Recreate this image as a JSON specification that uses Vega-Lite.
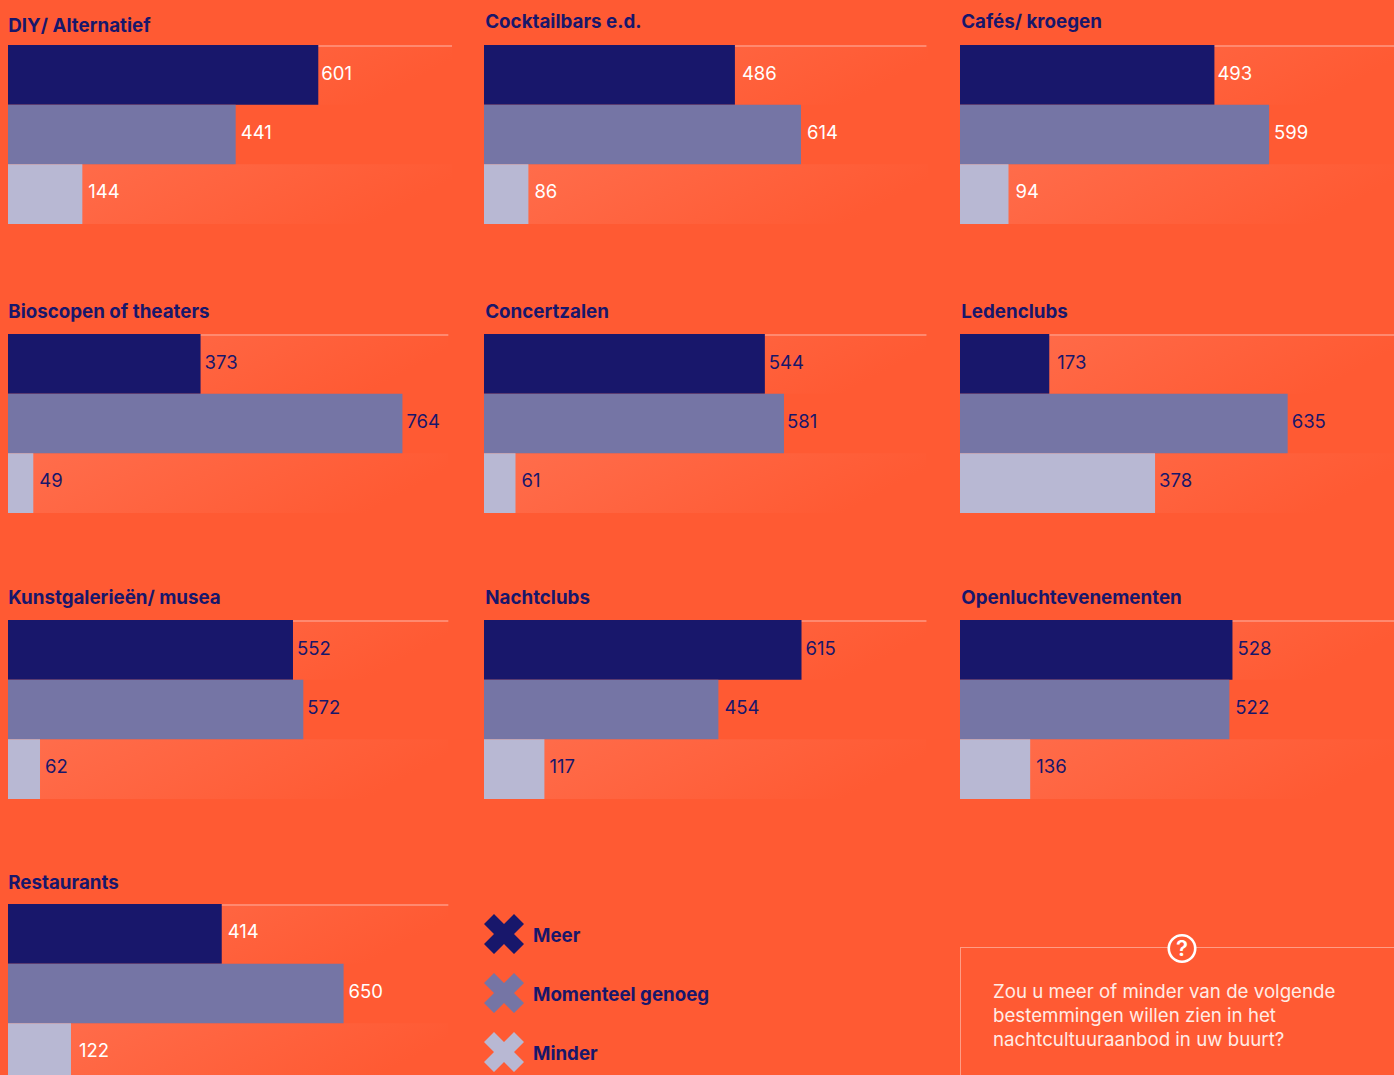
{"$schema":"https://vega.github.io/schema/vega-lite/v6.json","background":"#ff5a33","padding":{"left":7,"top":13,"right":0,"bottom":0},"bounds":"flush","align":"each","columns":3,"spacing":{"row":0,"column":32},
"datasets":{"rows":[
{"panel":"DIY/ Alternatief","category":"Meer","value":601},{"panel":"DIY/ Alternatief","category":"Momenteel genoeg","value":441},{"panel":"DIY/ Alternatief","category":"Minder","value":144},
{"panel":"Cocktailbars e.d.","category":"Meer","value":486},{"panel":"Cocktailbars e.d.","category":"Momenteel genoeg","value":614},{"panel":"Cocktailbars e.d.","category":"Minder","value":86},
{"panel":"Cafés/ kroegen","category":"Meer","value":493},{"panel":"Cafés/ kroegen","category":"Momenteel genoeg","value":599},{"panel":"Cafés/ kroegen","category":"Minder","value":94},
{"panel":"Bioscopen of theaters","category":"Meer","value":373},{"panel":"Bioscopen of theaters","category":"Momenteel genoeg","value":764},{"panel":"Bioscopen of theaters","category":"Minder","value":49},
{"panel":"Concertzalen","category":"Meer","value":544},{"panel":"Concertzalen","category":"Momenteel genoeg","value":581},{"panel":"Concertzalen","category":"Minder","value":61},
{"panel":"Ledenclubs","category":"Meer","value":173},{"panel":"Ledenclubs","category":"Momenteel genoeg","value":635},{"panel":"Ledenclubs","category":"Minder","value":378},
{"panel":"Kunstgalerieën/ musea","category":"Meer","value":552},{"panel":"Kunstgalerieën/ musea","category":"Momenteel genoeg","value":572},{"panel":"Kunstgalerieën/ musea","category":"Minder","value":62},
{"panel":"Nachtclubs","category":"Meer","value":615},{"panel":"Nachtclubs","category":"Momenteel genoeg","value":454},{"panel":"Nachtclubs","category":"Minder","value":117},
{"panel":"Openluchtevenementen","category":"Meer","value":528},{"panel":"Openluchtevenementen","category":"Momenteel genoeg","value":522},{"panel":"Openluchtevenementen","category":"Minder","value":136},
{"panel":"Restaurants","category":"Meer","value":414},{"panel":"Restaurants","category":"Momenteel genoeg","value":650},{"panel":"Restaurants","category":"Minder","value":122}
]},
"concat":[
{"width":444,"height":289,"title":{"text":"DIY/ Alternatief","offset":9,"dx":1},"data":{"name":"rows"},"transform":[{"filter":"datum.panel==='DIY/ Alternatief'"}],"encoding":{"y":{"field":"category","type":"nominal","axis":null,"scale":{"type":"band","domain":["Meer","Momenteel genoeg","Minder"],"range":[0,179],"padding":0}},"x":{"field":"value","type":"quantitative","axis":null,"stack":null,"scale":{"domain":[0,860],"nice":false}}},
"layer":[
{"transform":[{"filter":"datum.category!=='Momenteel genoeg'"}],"mark":{"type":"bar","color":{"gradient":"linear","x1":0,"y1":0,"x2":1,"y2":0.25,"stops":[{"offset":0,"color":"#ff6e4d"},{"offset":1,"color":"#ff5a33"}]}},"encoding":{"x":{"datum":860,"type":"quantitative"}}},
{"mark":{"type":"rule","color":"#ff8a70","strokeWidth":1.5,"yOffset":1},"encoding":{"x":{"datum":0,"type":"quantitative"},"x2":{"datum":860},"y":{"datum":"Meer","type":"nominal","bandPosition":0}}},
{"mark":"bar","encoding":{"color":{"field":"category","type":"nominal","title":null,"legend":{"encoding":{"labels":{"dy":{"value":2}}}},"scale":{"domain":["Meer","Momenteel genoeg","Minder"],"range":["#18176b","#7575a5","#b8b8d3"]}}}},
{"mark":{"type":"text","align":"left","baseline":"middle","fontSize":18.5,"color":"#ffffff","dy":{"expr":"datum.category==='Meer'?-1:-2"},"dx":{"expr":"datum.category==='Meer'?3:datum.category==='Minder'?6:5"}},"encoding":{"text":{"field":"value","type":"quantitative"}}}
]},
{"width":444,"height":289,"title":{"text":"Cocktailbars e.d.","offset":13,"dx":2},"data":{"name":"rows"},"transform":[{"filter":"datum.panel==='Cocktailbars e.d.'"}],"encoding":{"y":{"field":"category","type":"nominal","axis":null,"scale":{"type":"band","domain":["Meer","Momenteel genoeg","Minder"],"range":[0,179],"padding":0}},"x":{"field":"value","type":"quantitative","axis":null,"stack":null,"scale":{"domain":[0,860],"nice":false}}},
"layer":[
{"transform":[{"filter":"datum.category!=='Momenteel genoeg'"}],"mark":{"type":"bar","color":{"gradient":"linear","x1":0,"y1":0,"x2":1,"y2":0.25,"stops":[{"offset":0,"color":"#ff6e4d"},{"offset":1,"color":"#ff5a33"}]}},"encoding":{"x":{"datum":860,"type":"quantitative"}}},
{"mark":{"type":"rule","color":"#ff8a70","strokeWidth":1.5,"yOffset":1},"encoding":{"x":{"datum":0,"type":"quantitative"},"x2":{"datum":856.6},"y":{"datum":"Meer","type":"nominal","bandPosition":0}}},
{"mark":"bar","encoding":{"color":{"field":"category","type":"nominal","title":null,"scale":{"domain":["Meer","Momenteel genoeg","Minder"],"range":["#18176b","#7575a5","#b8b8d3"]}}}},
{"mark":{"type":"text","align":"left","baseline":"middle","fontSize":18.5,"color":"#ffffff","dy":{"expr":"datum.category==='Meer'?-1:-2"},"dx":{"expr":"datum.category==='Meer'?7:6"}},"encoding":{"text":{"field":"value","type":"quantitative"}}}
]},
{"width":435,"height":289,"title":{"text":"Cafés/ kroegen","offset":13,"dx":2},"data":{"name":"rows"},"transform":[{"filter":"datum.panel==='Cafés/ kroegen'"}],"encoding":{"y":{"field":"category","type":"nominal","axis":null,"scale":{"type":"band","domain":["Meer","Momenteel genoeg","Minder"],"range":[0,179],"padding":0}},"x":{"field":"value","type":"quantitative","axis":null,"stack":null,"scale":{"domain":[0,843],"nice":false}}},
"layer":[
{"transform":[{"filter":"datum.category!=='Momenteel genoeg'"}],"mark":{"type":"bar","color":{"gradient":"linear","x1":0,"y1":0,"x2":1,"y2":0.25,"stops":[{"offset":0,"color":"#ff6e4d"},{"offset":1,"color":"#ff5a33"}]}},"encoding":{"x":{"datum":843,"type":"quantitative"}}},
{"mark":{"type":"rule","color":"#ff8a70","strokeWidth":1.5,"yOffset":1},"encoding":{"x":{"datum":0,"type":"quantitative"},"x2":{"datum":843},"y":{"datum":"Meer","type":"nominal","bandPosition":0}}},
{"mark":"bar","encoding":{"color":{"field":"category","type":"nominal","title":null,"scale":{"domain":["Meer","Momenteel genoeg","Minder"],"range":["#18176b","#7575a5","#b8b8d3"]}}}},
{"mark":{"type":"text","align":"left","baseline":"middle","fontSize":18.5,"color":"#ffffff","dy":{"expr":"datum.category==='Meer'?-1:-2"},"dx":{"expr":"datum.category==='Meer'?3:datum.category==='Minder'?7:5"}},"encoding":{"text":{"field":"value","type":"quantitative"}}}
]},
{"width":444,"height":286,"title":{"text":"Bioscopen of theaters","offset":12,"dx":1},"data":{"name":"rows"},"transform":[{"filter":"datum.panel==='Bioscopen of theaters'"}],"encoding":{"y":{"field":"category","type":"nominal","axis":null,"scale":{"type":"band","domain":["Meer","Momenteel genoeg","Minder"],"range":[0,179],"padding":0}},"x":{"field":"value","type":"quantitative","axis":null,"stack":null,"scale":{"domain":[0,860],"nice":false}}},
"layer":[
{"transform":[{"filter":"datum.category!=='Momenteel genoeg'"}],"mark":{"type":"bar","color":{"gradient":"linear","x1":0,"y1":0,"x2":1,"y2":0.25,"stops":[{"offset":0,"color":"#ff6e4d"},{"offset":1,"color":"#ff5a33"}]}},"encoding":{"x":{"datum":852.6,"type":"quantitative"}}},
{"mark":{"type":"rule","color":"#ff8a70","strokeWidth":1.5,"yOffset":1},"encoding":{"x":{"datum":0,"type":"quantitative"},"x2":{"datum":852.6},"y":{"datum":"Meer","type":"nominal","bandPosition":0}}},
{"mark":"bar","encoding":{"color":{"field":"category","type":"nominal","title":null,"scale":{"domain":["Meer","Momenteel genoeg","Minder"],"range":["#18176b","#7575a5","#b8b8d3"]}}}},
{"mark":{"type":"text","align":"left","baseline":"middle","fontSize":18.5,"color":"#18176b","dy":{"expr":"datum.category==='Meer'?-1:-2"},"dx":{"expr":"datum.category==='Minder'?6:4"}},"encoding":{"text":{"field":"value","type":"quantitative"}}}
]},
{"width":444,"height":286,"title":{"text":"Concertzalen","offset":12,"dx":2},"data":{"name":"rows"},"transform":[{"filter":"datum.panel==='Concertzalen'"}],"encoding":{"y":{"field":"category","type":"nominal","axis":null,"scale":{"type":"band","domain":["Meer","Momenteel genoeg","Minder"],"range":[0,179],"padding":0}},"x":{"field":"value","type":"quantitative","axis":null,"stack":null,"scale":{"domain":[0,860],"nice":false}}},
"layer":[
{"transform":[{"filter":"datum.category!=='Momenteel genoeg'"}],"mark":{"type":"bar","color":{"gradient":"linear","x1":0,"y1":0,"x2":1,"y2":0.25,"stops":[{"offset":0,"color":"#ff6e4d"},{"offset":1,"color":"#ff5a33"}]}},"encoding":{"x":{"datum":856.6,"type":"quantitative"}}},
{"mark":{"type":"rule","color":"#ff8a70","strokeWidth":1.5,"yOffset":1},"encoding":{"x":{"datum":0,"type":"quantitative"},"x2":{"datum":856.6},"y":{"datum":"Meer","type":"nominal","bandPosition":0}}},
{"mark":"bar","encoding":{"color":{"field":"category","type":"nominal","title":null,"scale":{"domain":["Meer","Momenteel genoeg","Minder"],"range":["#18176b","#7575a5","#b8b8d3"]}}}},
{"mark":{"type":"text","align":"left","baseline":"middle","fontSize":18.5,"color":"#18176b","dy":{"expr":"datum.category==='Meer'?-1:-2"},"dx":{"expr":"datum.category==='Meer'?4:datum.category==='Minder'?6:3"}},"encoding":{"text":{"field":"value","type":"quantitative"}}}
]},
{"width":435,"height":286,"title":{"text":"Ledenclubs","offset":12,"dx":2},"data":{"name":"rows"},"transform":[{"filter":"datum.panel==='Ledenclubs'"}],"encoding":{"y":{"field":"category","type":"nominal","axis":null,"scale":{"type":"band","domain":["Meer","Momenteel genoeg","Minder"],"range":[0,179],"padding":0}},"x":{"field":"value","type":"quantitative","axis":null,"stack":null,"scale":{"domain":[0,843],"nice":false}}},
"layer":[
{"transform":[{"filter":"datum.category!=='Momenteel genoeg'"}],"mark":{"type":"bar","color":{"gradient":"linear","x1":0,"y1":0,"x2":1,"y2":0.25,"stops":[{"offset":0,"color":"#ff6e4d"},{"offset":1,"color":"#ff5a33"}]}},"encoding":{"x":{"datum":843,"type":"quantitative"}}},
{"mark":{"type":"rule","color":"#ff8a70","strokeWidth":1.5,"yOffset":1},"encoding":{"x":{"datum":0,"type":"quantitative"},"x2":{"datum":843},"y":{"datum":"Meer","type":"nominal","bandPosition":0}}},
{"mark":"bar","encoding":{"color":{"field":"category","type":"nominal","title":null,"scale":{"domain":["Meer","Momenteel genoeg","Minder"],"range":["#18176b","#7575a5","#b8b8d3"]}}}},
{"mark":{"type":"text","align":"left","baseline":"middle","fontSize":18.5,"color":"#18176b","dy":{"expr":"datum.category==='Meer'?-1:-2"},"dx":{"expr":"datum.category==='Meer'?8:4"}},"encoding":{"text":{"field":"value","type":"quantitative"}}}
]},
{"width":444,"height":284,"title":{"text":"Kunstgalerieën/ musea","offset":12,"dx":1},"data":{"name":"rows"},"transform":[{"filter":"datum.panel==='Kunstgalerieën/ musea'"}],"encoding":{"y":{"field":"category","type":"nominal","axis":null,"scale":{"type":"band","domain":["Meer","Momenteel genoeg","Minder"],"range":[0,179],"padding":0}},"x":{"field":"value","type":"quantitative","axis":null,"stack":null,"scale":{"domain":[0,860],"nice":false}}},
"layer":[
{"transform":[{"filter":"datum.category!=='Momenteel genoeg'"}],"mark":{"type":"bar","color":{"gradient":"linear","x1":0,"y1":0,"x2":1,"y2":0.25,"stops":[{"offset":0,"color":"#ff6e4d"},{"offset":1,"color":"#ff5a33"}]}},"encoding":{"x":{"datum":852.6,"type":"quantitative"}}},
{"mark":{"type":"rule","color":"#ff8a70","strokeWidth":1.5,"yOffset":1},"encoding":{"x":{"datum":0,"type":"quantitative"},"x2":{"datum":852.6},"y":{"datum":"Meer","type":"nominal","bandPosition":0}}},
{"mark":"bar","encoding":{"color":{"field":"category","type":"nominal","title":null,"scale":{"domain":["Meer","Momenteel genoeg","Minder"],"range":["#18176b","#7575a5","#b8b8d3"]}}}},
{"mark":{"type":"text","align":"left","baseline":"middle","fontSize":18.5,"color":"#18176b","dy":{"expr":"datum.category==='Meer'?-1:-2"},"dx":{"expr":"datum.category==='Minder'?5:4"}},"encoding":{"text":{"field":"value","type":"quantitative"}}}
]},
{"width":444,"height":284,"title":{"text":"Nachtclubs","offset":12,"dx":2},"data":{"name":"rows"},"transform":[{"filter":"datum.panel==='Nachtclubs'"}],"encoding":{"y":{"field":"category","type":"nominal","axis":null,"scale":{"type":"band","domain":["Meer","Momenteel genoeg","Minder"],"range":[0,179],"padding":0}},"x":{"field":"value","type":"quantitative","axis":null,"stack":null,"scale":{"domain":[0,860],"nice":false}}},
"layer":[
{"transform":[{"filter":"datum.category!=='Momenteel genoeg'"}],"mark":{"type":"bar","color":{"gradient":"linear","x1":0,"y1":0,"x2":1,"y2":0.25,"stops":[{"offset":0,"color":"#ff6e4d"},{"offset":1,"color":"#ff5a33"}]}},"encoding":{"x":{"datum":856.6,"type":"quantitative"}}},
{"mark":{"type":"rule","color":"#ff8a70","strokeWidth":1.5,"yOffset":1},"encoding":{"x":{"datum":0,"type":"quantitative"},"x2":{"datum":856.6},"y":{"datum":"Meer","type":"nominal","bandPosition":0}}},
{"mark":"bar","encoding":{"color":{"field":"category","type":"nominal","title":null,"scale":{"domain":["Meer","Momenteel genoeg","Minder"],"range":["#18176b","#7575a5","#b8b8d3"]}}}},
{"mark":{"type":"text","align":"left","baseline":"middle","fontSize":18.5,"color":"#18176b","dy":{"expr":"datum.category==='Meer'?-1:-2"},"dx":{"expr":"datum.category==='Meer'?4:datum.category==='Minder'?5:6"}},"encoding":{"text":{"field":"value","type":"quantitative"}}}
]},
{"width":435,"height":284,"title":{"text":"Openluchtevenementen","offset":12,"dx":2},"data":{"name":"rows"},"transform":[{"filter":"datum.panel==='Openluchtevenementen'"}],"encoding":{"y":{"field":"category","type":"nominal","axis":null,"scale":{"type":"band","domain":["Meer","Momenteel genoeg","Minder"],"range":[0,179],"padding":0}},"x":{"field":"value","type":"quantitative","axis":null,"stack":null,"scale":{"domain":[0,843],"nice":false}}},
"layer":[
{"transform":[{"filter":"datum.category!=='Momenteel genoeg'"}],"mark":{"type":"bar","color":{"gradient":"linear","x1":0,"y1":0,"x2":1,"y2":0.25,"stops":[{"offset":0,"color":"#ff6e4d"},{"offset":1,"color":"#ff5a33"}]}},"encoding":{"x":{"datum":843,"type":"quantitative"}}},
{"mark":{"type":"rule","color":"#ff8a70","strokeWidth":1.5,"yOffset":1},"encoding":{"x":{"datum":0,"type":"quantitative"},"x2":{"datum":843},"y":{"datum":"Meer","type":"nominal","bandPosition":0}}},
{"mark":"bar","encoding":{"color":{"field":"category","type":"nominal","title":null,"scale":{"domain":["Meer","Momenteel genoeg","Minder"],"range":["#18176b","#7575a5","#b8b8d3"]}}}},
{"mark":{"type":"text","align":"left","baseline":"middle","fontSize":18.5,"color":"#18176b","dy":{"expr":"datum.category==='Meer'?-1:-2"},"dx":{"expr":"datum.category==='Meer'?5:6"}},"encoding":{"text":{"field":"value","type":"quantitative"}}}
]},
{"width":444,"height":171,"title":{"text":"Restaurants","offset":11,"dx":1},"data":{"name":"rows"},"transform":[{"filter":"datum.panel==='Restaurants'"}],"encoding":{"y":{"field":"category","type":"nominal","axis":null,"scale":{"type":"band","domain":["Meer","Momenteel genoeg","Minder"],"range":[0,179],"padding":0}},"x":{"field":"value","type":"quantitative","axis":null,"stack":null,"scale":{"domain":[0,860],"nice":false}}},
"layer":[
{"transform":[{"filter":"datum.category!=='Momenteel genoeg'"}],"mark":{"type":"bar","clip":true,"color":{"gradient":"linear","x1":0,"y1":0,"x2":1,"y2":0.25,"stops":[{"offset":0,"color":"#ff6e4d"},{"offset":1,"color":"#ff5a33"}]}},"encoding":{"x":{"datum":852.6,"type":"quantitative"}}},
{"mark":{"type":"rule","color":"#ff8a70","strokeWidth":1.5,"yOffset":1},"encoding":{"x":{"datum":0,"type":"quantitative"},"x2":{"datum":852.6},"y":{"datum":"Meer","type":"nominal","bandPosition":0}}},
{"mark":{"type":"bar","clip":true},"encoding":{"color":{"field":"category","type":"nominal","title":null,"scale":{"domain":["Meer","Momenteel genoeg","Minder"],"range":["#18176b","#7575a5","#b8b8d3"]}}}},
{"mark":{"type":"text","align":"left","baseline":"middle","fontSize":18.5,"color":"#ffffff","dy":-2,"dx":{"expr":"datum.category==='Meer'?6:datum.category==='Minder'?8:5"}},"encoding":{"text":{"field":"value","type":"quantitative"}}}
]},
{"width":444,"height":171,"data":{"values":[]},"mark":"text"},
{"width":435,"height":171,"data":{"values":[{"note":"Zou u meer of minder van de volgende bestemmingen willen zien in het nachtcultuuraanbod in uw buurt?"}]},
"encoding":{"x":{"datum":0,"type":"quantitative","axis":null,"scale":{"domain":[0,435],"nice":false}},"y":{"datum":43.5,"type":"quantitative","axis":null,"scale":{"domain":[171,0],"nice":false}}},
"layer":[
{"mark":{"type":"rule","color":"#ff9c85","strokeWidth":1},"encoding":{"x2":{"datum":435}}},
{"mark":{"type":"rule","color":"#ff9c85","strokeWidth":1},"encoding":{"x":{"datum":0.5,"type":"quantitative"},"y2":{"datum":171}}},
{"mark":{"type":"point","filled":false,"shape":"circle","size":700,"stroke":"#ffffff","strokeWidth":2.6,"fill":"#ff5a33","fillOpacity":1,"opacity":1},"encoding":{"x":{"datum":222,"type":"quantitative"},"y":{"datum":44.5,"type":"quantitative"}}},
{"mark":{"type":"text","text":"?","fontSize":22,"fontWeight":600,"color":"#ffffff","align":"center","baseline":"middle"},"encoding":{"x":{"datum":222,"type":"quantitative"},"y":{"datum":44.5,"type":"quantitative"}}},
{"mark":{"type":"text","text":["Zou u meer of minder van de volgende","bestemmingen willen zien in het","nachtcultuuraanbod in uw buurt?"],"fontSize":18.7,"lineHeight":24.2,"color":"#ffece6","align":"left","baseline":"alphabetic"},"encoding":{"x":{"datum":33,"type":"quantitative"},"y":{"datum":94,"type":"quantitative"}}}
]}
],
"config":{"font":"Inter","view":{"stroke":null},"title":{"anchor":"start","font":"Inter","fontSize":18.75,"fontWeight":700,"color":"#18176b","baseline":"alphabetic"},
"legend":{"orient":"none","legendX":476,"legendY":869,"symbolType":"M-0.5 -1L0 -0.5L0.5 -1L1 -0.5L0.5 0L1 0.5L0.5 1L0 0.5L-0.5 1L-1 0.5L-0.5 0L-1 -0.5Z","symbolSize":1600,"symbolStrokeWidth":0,"labelFont":"Inter","labelFontSize":18.7,"labelFontWeight":700,"labelColor":"#18176b","labelLimit":400,"labelOffset":9,"rowPadding":19}}}
